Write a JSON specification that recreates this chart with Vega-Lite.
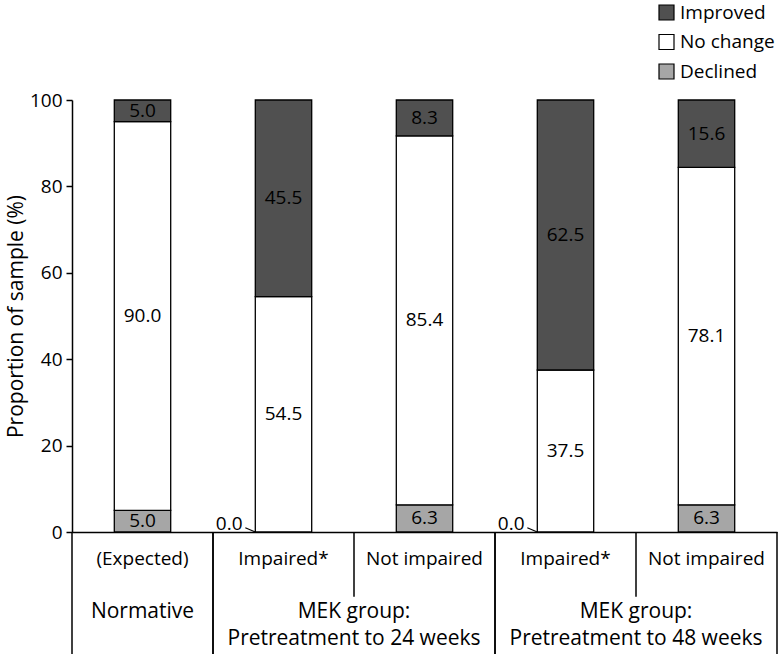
{
  "$schema": "https://vega.github.io/schema/vega-lite/v6.json",
  "autosize": "none",
  "width": 705,
  "height": 432,
  "padding": {"left": 72, "top": 100, "right": 3, "bottom": 122},
  "config": {
    "font": "Open Sans",
    "view": {"stroke": null},
    "text": {"font": "Open Sans", "color": "black"}
  },
  "datasets": {
    "bars": [
      {"cat": "(Expected) | Normative", "outcome": "Declined", "order": 1, "value": 5.0},
      {"cat": "(Expected) | Normative", "outcome": "No change", "order": 2, "value": 90.0},
      {"cat": "(Expected) | Normative", "outcome": "Improved", "order": 3, "value": 5.0},
      {"cat": "Impaired* | 24 weeks", "outcome": "Declined", "order": 1, "value": 0.0},
      {"cat": "Impaired* | 24 weeks", "outcome": "No change", "order": 2, "value": 54.5},
      {"cat": "Impaired* | 24 weeks", "outcome": "Improved", "order": 3, "value": 45.5},
      {"cat": "Not impaired | 24 weeks", "outcome": "Declined", "order": 1, "value": 6.3},
      {"cat": "Not impaired | 24 weeks", "outcome": "No change", "order": 2, "value": 85.4},
      {"cat": "Not impaired | 24 weeks", "outcome": "Improved", "order": 3, "value": 8.3},
      {"cat": "Impaired* | 48 weeks", "outcome": "Declined", "order": 1, "value": 0.0},
      {"cat": "Impaired* | 48 weeks", "outcome": "No change", "order": 2, "value": 37.5},
      {"cat": "Impaired* | 48 weeks", "outcome": "Improved", "order": 3, "value": 62.5},
      {"cat": "Not impaired | 48 weeks", "outcome": "Declined", "order": 1, "value": 6.3},
      {"cat": "Not impaired | 48 weeks", "outcome": "No change", "order": 2, "value": 78.1},
      {"cat": "Not impaired | 48 weeks", "outcome": "Improved", "order": 3, "value": 15.6}
    ],
    "groups": [
      {"group": "Normative", "span": 1, "first": "(Expected) | Normative", "last": "(Expected) | Normative", "label": ["Normative"]},
      {"group": "MEK 24", "span": 2, "first": "Impaired* | 24 weeks", "last": "Not impaired | 24 weeks", "label": ["MEK group:", "Pretreatment to 24 weeks"]},
      {"group": "MEK 48", "span": 2, "first": "Impaired* | 48 weeks", "last": "Not impaired | 48 weeks", "label": ["MEK group:", "Pretreatment to 48 weeks"]}
    ]
  },
  "layer": [
    {
      "data": {"name": "bars"},
      "mark": {"type": "bar", "stroke": "black", "strokeWidth": 1.3},
      "encoding": {
        "x": {
          "field": "cat", "type": "nominal",
          "scale": {
            "type": "band",
            "domain": ["(Expected) | Normative", "Impaired* | 24 weeks", "Not impaired | 24 weeks", "Impaired* | 48 weeks", "Not impaired | 48 weeks"],
            "paddingInner": 0.6, "paddingOuter": 0.3
          },
          "axis": {
            "title": null,
            "labelExpr": "split(datum.label, ' | ')[0]",
            "labelAngle": 0,
            "labelFont": "Open Sans",
            "labelFontSize": 19,
            "labelColor": "black",
            "labelBaseline": "top",
            "labelPadding": 17,
            "domainColor": "black",
            "domainWidth": 1.5,
            "ticks": false
          }
        },
        "y": {
          "field": "value", "type": "quantitative", "stack": "zero",
          "scale": {"domain": [0, 100], "nice": false},
          "axis": {
            "title": "Proportion of sample (%)",
            "titleFont": "Open Sans",
            "titleFontSize": 21,
            "titleFontWeight": "normal",
            "titleColor": "black",
            "titlePadding": 3,
            "values": [0, 20, 40, 60, 80, 100],
            "grid": false,
            "labelFont": "Open Sans",
            "labelFontSize": 19,
            "labelColor": "black",
            "labelPadding": 4,
            "domainColor": "black",
            "domainWidth": 1.5,
            "tickColor": "black",
            "tickWidth": 1.5,
            "tickSize": 6
          }
        },
        "fill": {
          "field": "outcome", "type": "nominal",
          "scale": {"domain": ["Improved", "No change", "Declined"], "range": ["#505050", "#ffffff", "#a6a6a6"]},
          "legend": {
            "orient": "none",
            "legendX": 585,
            "legendY": -97,
            "title": null,
            "direction": "vertical",
            "symbolType": "square",
            "symbolSize": 225,
            "symbolStrokeColor": "black",
            "symbolStrokeWidth": 1.2,
            "labelFont": "Open Sans",
            "labelFontSize": 19,
            "labelColor": "black",
            "labelOffset": 4,
            "rowPadding": 8.5,
            "padding": 0
          }
        },
        "order": {"field": "order", "type": "quantitative"}
      }
    },
    {
      "data": {"name": "bars"},
      "transform": [{"filter": "datum.value > 0"}],
      "mark": {"type": "text", "fontSize": 19, "baseline": "middle"},
      "encoding": {
        "x": {"field": "cat", "type": "nominal", "title": null},
        "y": {"field": "value", "type": "quantitative", "stack": "zero", "bandPosition": 0.5},
        "detail": {"field": "outcome"},
        "order": {"field": "order", "type": "quantitative"},
        "text": {"field": "value", "type": "quantitative", "format": ".1f"}
      }
    },
    {
      "data": {"name": "bars"},
      "transform": [{"filter": "datum.value == 0"}],
      "mark": {"type": "text", "fontSize": 19, "align": "right", "baseline": "alphabetic", "dx": -41, "dy": -2},
      "encoding": {
        "x": {"field": "cat", "type": "nominal", "title": null},
        "y": {"datum": 0},
        "text": {"field": "value", "type": "quantitative", "format": ".1f"}
      }
    },
    {
      "data": {"name": "bars"},
      "transform": [{"filter": "datum.value == 0"}],
      "mark": {"type": "rule", "color": "black", "strokeWidth": 1.2, "x2Offset": -10},
      "encoding": {
        "x": {"field": "cat", "type": "nominal", "bandPosition": 0, "title": null},
        "x2": {"field": "cat", "bandPosition": 0},
        "y": {"datum": 0},
        "y2": {"datum": 1}
      }
    },
    {
      "data": {"name": "groups"},
      "mark": {"type": "rule", "color": "black", "strokeWidth": 1.5, "xOffset": -42.3},
      "encoding": {
        "x": {"field": "first", "type": "nominal", "bandPosition": 0, "title": null},
        "y": {"datum": 0},
        "y2": {"datum": -28.5}
      }
    },
    {
      "data": {"name": "groups"},
      "mark": {"type": "rule", "color": "black", "strokeWidth": 1.5, "xOffset": 42.3},
      "encoding": {
        "x": {"field": "last", "type": "nominal", "bandPosition": 1, "title": null},
        "y": {"datum": 0},
        "y2": {"datum": -28.5}
      }
    },
    {
      "data": {"name": "groups"},
      "transform": [{"filter": "datum.span == 2"}],
      "mark": {"type": "rule", "color": "black", "strokeWidth": 1.5, "xOffset": 42.3},
      "encoding": {
        "x": {"field": "first", "type": "nominal", "bandPosition": 1, "title": null},
        "y": {"datum": 0},
        "y2": {"datum": -15}
      }
    },
    {
      "data": {"name": "groups"},
      "transform": [{"filter": "datum.span == 1"}],
      "mark": {"type": "text", "fontSize": 21, "baseline": "top", "lineHeight": 27},
      "encoding": {
        "x": {"field": "first", "type": "nominal", "title": null},
        "y": {"datum": -16},
        "text": {"field": "label"}
      }
    },
    {
      "data": {"name": "groups"},
      "transform": [{"filter": "datum.span == 2"}],
      "mark": {"type": "text", "fontSize": 21, "baseline": "top", "lineHeight": 27, "dx": 70.5},
      "encoding": {
        "x": {"field": "first", "type": "nominal", "title": null},
        "y": {"datum": -16},
        "text": {"field": "label"}
      }
    }
  ]
}
